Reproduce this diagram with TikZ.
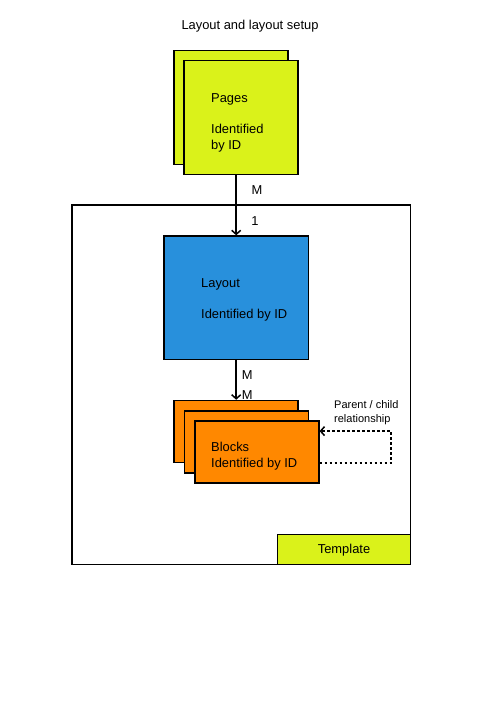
\documentclass[tikz,border=0pt]{standalone}
\usepackage{fontspec}
\setmainfont{Liberation Sans}
\usetikzlibrary{arrows.meta}
\definecolor{pagelime}{RGB}{218,242,26}
\definecolor{layoutblue}{RGB}{40,144,220}
\definecolor{blockorange}{RGB}{255,136,0}
\begin{document}
\begin{tikzpicture}[x=1pt, y=-1pt]
  \tikzstyle{box}=[draw, line width=1.5pt, inner sep=0pt]
  \tikzstyle{page}=[box, fill=pagelime, minimum width=114pt, minimum height=114pt]
  \tikzstyle{block}=[box, fill=blockorange, minimum width=124pt, minimum height=62pt]
  \tikzstyle{txt}=[anchor=base west, align=left, inner sep=0pt, font=\fontsize{12.9}{16}\selectfont]
  \tikzstyle{small}=[anchor=base west, align=left, inner sep=0pt, font=\fontsize{11}{14}\selectfont]
  \tikzstyle{mult}=[inner sep=0pt, font=\fontsize{12.9}{16}\selectfont]
  \tikzstyle{link}=[line width=1.5pt, -{Straight Barb[length=4pt, width=9pt]}]

  \useasboundingbox (0,0) rectangle (500,708);

  \node[txt, anchor=base] (title) at (250, 29.6) {Layout and layout setup};

  \node[box, minimum width=338.7pt, minimum height=359.3pt] (template) at (241.35, 384.65) {};
  \node[box, fill=pagelime, minimum width=133.4pt, minimum height=30pt, text depth=0pt, font=\fontsize{12.9}{16}\selectfont] (templ) at (344, 549.3) {Template};

  \node[page] (pagesB) at (231.2, 107.5) {};
  \node[page] (pagesA) at (241.2, 117.5) {};
  \node[txt] (pagesT) at (211, 149.4) {Pages\\[15pt]Identified\\by ID};

  \node[box, fill=layoutblue, minimum width=144.3pt, minimum height=123.3pt] (layout) at (236.2, 297.7) {};
  \node[txt] (layoutT) at (201, 318.4) {Layout\\[15pt]Identified by ID};

  \node[block] (blocksC) at (236.2, 431.5) {};
  \node[block] (blocksB) at (246.5, 441.8) {};
  \node[block] (blocksA) at (256.8, 452.1) {};
  \node[txt] (blocksT) at (211, 467.4) {Blocks\\Identified by ID};

  \node[small] (relT) at (334, 422.6) {Parent / child\\relationship};

  \draw[link] (layout.north |- pagesA.south) -- (layout.north);
  \draw[link] (layout.south) -- (blocksC.north);
  \draw[line width=1.5pt, dash pattern=on 2.5pt off 2.5pt, -{Straight Barb[length=4pt, width=9pt]}]
    ([yshift=-11pt]blocksA.east) -- ++(71.5,0) |- ([yshift=21pt]blocksA.east);

  \node[mult] (m1) at (257, 190) {M};
  \node[mult] (n1) at (255, 221) {1};
  \node[mult] (m2) at (247.3, 375.5) {M};
  \node[mult] (m3) at (247.3, 395.5) {M};
\end{tikzpicture}
\end{document}
